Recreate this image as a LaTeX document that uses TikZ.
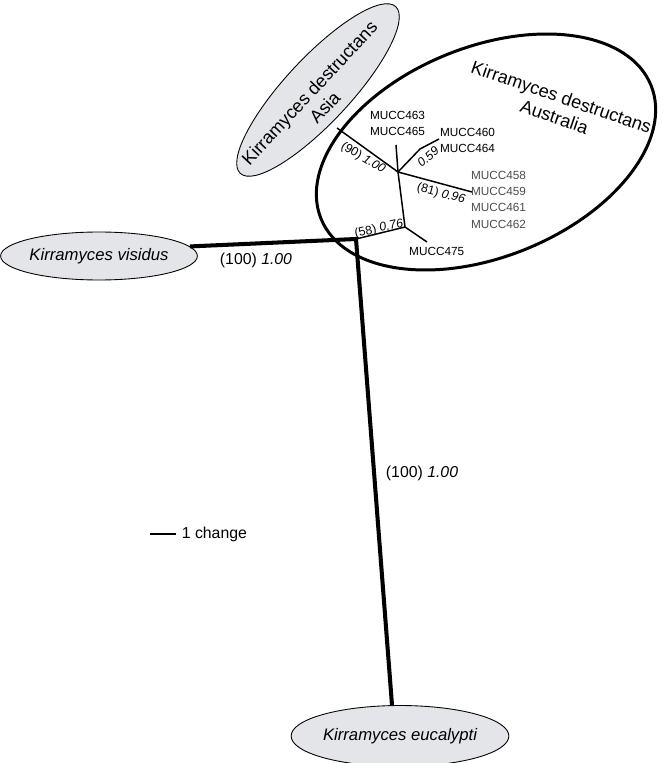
\documentclass[tikz,border=0pt]{standalone}
\usepackage{fontspec}
\setmainfont{Liberation Sans}
\usetikzlibrary{shapes.geometric,positioning}
\definecolor{taxonfill}{RGB}{228,229,233}

\begin{document}
\begin{tikzpicture}[x=0.02cm,y=-0.02cm,%
	taxon/.style={draw,line width=0.5pt,fill=taxonfill,shape=ellipse,inner sep=0pt},
	clade/.style={draw,line width=1.7pt,shape=ellipse,inner sep=0pt},
	strain/.style={font=\fontsize{6.7}{9.3}\selectfont,align=center,inner sep=0pt},
	support/.style={font=\fontsize{7}{8}\selectfont,inner sep=0pt},
	bigsupport/.style={font=\fontsize{9}{11}\selectfont,inner sep=0pt},
	cladename/.style={font=\fontsize{10.3}{12}\selectfont,align=center,inner sep=0pt},
	branch/.style={line width=0.85pt},
	trunk/.style={line width=2.3pt}]
	\useasboundingbox (0,0) rectangle (662,763);

	% outgroups and clades
	\node[taxon,minimum width=3.48cm,minimum height=0.96cm] (visidus) at (99,256)
		{\fontsize{9.5}{11}\selectfont\itshape Kirramyces visidus};
	\node[taxon,minimum width=4.06cm,minimum height=1.22cm] (eucalypti) at (400,736)
		{\fontsize{9.5}{11}\selectfont\itshape Kirramyces eucalypti};
	\node[taxon,rotate=47,minimum width=4.56cm,minimum height=1.3cm] (asia) at (318,90) {};
	\node[cladename,rotate=47] (asialbl) at (317,100) {Kirramyces destructans\\Asia};
	\node[clade,rotate=22,minimum width=7.12cm,minimum height=4.2cm] (austr) at (486,152) {};
	\node[cladename,rotate=-19] (austrlbl) at (558,107) {Kirramyces destructans\\Australia};

	% tree
	\coordinate (nA) at (398,172);
	\coordinate (nB) at (405,227);
	\coordinate (nC) at (356,239);
	\coordinate (tipAsia) at (337,128);
	\coordinate (tip463) at (396,145);
	\coordinate (kink) at (420,149);
	\coordinate (tip460) at (439,139);
	\coordinate (tip458) at (472,192);
	\coordinate (tip475) at (427,242);
	\coordinate (tipEuc) at (392,705);
	\draw[trunk] (visidus.6) -- (nC) -- (tipEuc);
	\draw[branch] (tipAsia) -- (nA);
	\draw[branch] (tip463) -- (nA) -- (nB) -- (nC);
	\draw[branch] (nA) -- (kink) -- (tip460);
	\draw[branch] (nA) -- (tip458);
	\draw[branch] (nB) -- (tip475);

	% strains
	\node[strain] (l463) at (397.5,123.3) {MUCC463\\MUCC465};
	\node[strain] (l460) at (467.5,140.7) {MUCC460\\MUCC464};
	\node[strain,text=black!70] (l458) at (498.5,199.5) {MUCC458\\MUCC459\\MUCC461\\MUCC462};
	\node[strain] (l475) at (436.7,251.7) {MUCC475};

	% support values
	\foreach \x/\y/\ang/\val [count=\i] in {%
		363/158/-31/(90) \textit{1.00},%
		428/157/40/\textit{0.59},%
		441/194/-15/(81) \textit{0.96},%
		379/229/13/(58) \textit{0.76}%
		} { \node[support,rotate=\ang] (s-\i) at (\x,\y) {\val}; }
	\node[bigsupport] (s-vis) at (256,260) {(100) \textit{1.00}};
	\node[bigsupport] (s-euc) at (422,473) {(100) \textit{1.00}};

	% scale bar
	\coordinate (barL) at (150,534);
	\coordinate (barR) at (176,534);
	\draw[branch] (barL) -- (barR);
	\node[bigsupport,anchor=west] (barlbl) at (181.5,534) {1 change};
\end{tikzpicture}
\end{document}
